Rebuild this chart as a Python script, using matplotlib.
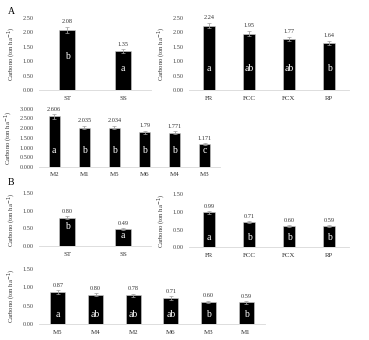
import matplotlib
matplotlib.use('Agg')
import matplotlib.pyplot as plt

plt.rcParams['font.family'] = ['Liberation Serif', 'DejaVu Serif']

# panel A
a1_cats = ['ST', 'SS']
a1_vals = [2.08, 1.35]
a1_err = [0.10, 0.06]
a1_let = ['b', 'a']
a1_labs = ['2.08', '1.35']

a2_cats = ['FR', 'FCC', 'FCX', 'RP']
a2_vals = [2.24, 1.95, 1.77, 1.64]
a2_err = [0.08, 0.09, 0.07, 0.07]
a2_let = ['a', 'ab', 'ab', 'b']
a2_labs = ['2.24', '1.95', '1.77', '1.64']

a3_cats = ['M2', 'M1', 'M5', 'M6', 'M4', 'M3']
a3_vals = [2.606, 2.035, 2.034, 1.79, 1.771, 1.171]
a3_err = [0.12, 0.10, 0.10, 0.09, 0.09, 0.06]
a3_let = ['a', 'b', 'b', 'b', 'b', 'c']
a3_labs = ['2.606', '2.035', '2.034', '1.79', '1.771', '1.171']

# panel B
b1_cats = ['ST', 'SS']
b1_vals = [0.80, 0.49]
b1_err = [0.04, 0.02]
b1_let = ['b', 'a']
b1_labs = ['0.80', '0.49']

b2_cats = ['FR', 'FCC', 'FCX', 'RP']
b2_vals = [0.99, 0.71, 0.60, 0.59]
b2_err = [0.04, 0.03, 0.03, 0.03]
b2_let = ['a', 'b', 'b', 'b']
b2_labs = ['0.99', '0.71', '0.60', '0.59']

b3_cats = ['M5', 'M4', 'M2', 'M6', 'M3', 'M1']
b3_vals = [0.87, 0.80, 0.78, 0.71, 0.60, 0.59]
b3_err = [0.05, 0.05, 0.05, 0.05, 0.04, 0.04]
b3_let = ['a', 'ab', 'ab', 'ab', 'b', 'b']
b3_labs = ['0.87', '0.80', '0.78', '0.71', '0.60', '0.59']

fig = plt.figure(figsize=(3.69, 3.40), dpi=100)


def panel(rect, cats, vals, err, lets, labs, ymax, step, fmt, lety, bw):
    ax = fig.add_axes(rect)
    x = range(len(cats))
    ax.bar(x, vals, width=bw, color='black', edgecolor='#d0d0d0', linewidth=0.4,
           yerr=err, error_kw=dict(ecolor='#a0a0a0', elinewidth=0.6, capsize=1.2, capthick=0.5))
    if not isinstance(lety, list):
        lety = [lety] * len(cats)
    for i in x:
        ax.text(i, vals[i] + err[i] + ymax * 0.04, labs[i], ha='center', va='bottom',
                fontsize=4.5, color='#333333')
        ax.text(i, lety[i], lets[i], ha='center', va='center', fontsize=7, color='white')
    ax.set_xlim(-0.5, len(cats) - 0.5)
    ax.set_ylim(0, ymax)
    ticks = [step * k for k in range(int(round(ymax / step)) + 1)]
    ax.set_yticks(ticks)
    ax.set_yticklabels([fmt.format(t) for t in ticks], fontsize=4.5, color='#444444')
    ax.set_xticks(list(x))
    ax.set_xticklabels(cats, fontsize=5, color='#333333')
    ax.tick_params(length=0, pad=4)
    for s in ['top', 'right', 'left']:
        ax.spines[s].set_visible(False)
    ax.spines['bottom'].set_color('#d8d8d8')
    ax.spines['bottom'].set_linewidth(0.6)
    ax.set_ylabel('Carbono (ton ha$^{-1}$)', fontsize=4.8, color='#333333', labelpad=3)
    return ax


panel([0.106, 0.735, 0.303, 0.212], a1_cats, a1_vals, a1_err, a1_let, a1_labs,
      2.5, 0.5, '{:.2f}', [1.15, 0.76], 0.3)
panel([0.512, 0.735, 0.434, 0.212], a2_cats, a2_vals, a2_err, a2_let, a2_labs,
      2.5, 0.5, '{:.2f}', 0.75, 0.28)
panel([0.106, 0.509, 0.490, 0.171], a3_cats, a3_vals, a3_err, a3_let, a3_labs,
      3.0, 0.5, '{:.3f}', 0.83, 0.37)
panel([0.106, 0.276, 0.303, 0.156], b1_cats, b1_vals, b1_err, b1_let, b1_labs,
      1.5, 0.5, '{:.2f}', [0.55, 0.3], 0.3)
panel([0.512, 0.273, 0.434, 0.156], b2_cats, b2_vals, b2_err, b2_let, b2_labs,
      1.5, 0.5, '{:.2f}', 0.28, 0.28)
panel([0.106, 0.047, 0.612, 0.162], b3_cats, b3_vals, b3_err, b3_let, b3_labs,
      1.5, 0.5, '{:.2f}', 0.27, 0.4)

fig.text(0.022, 0.965, 'A', fontsize=7, ha='left', va='center')
fig.text(0.022, 0.462, 'B', fontsize=7, ha='left', va='center')

fig.savefig('out.png', dpi=100)
